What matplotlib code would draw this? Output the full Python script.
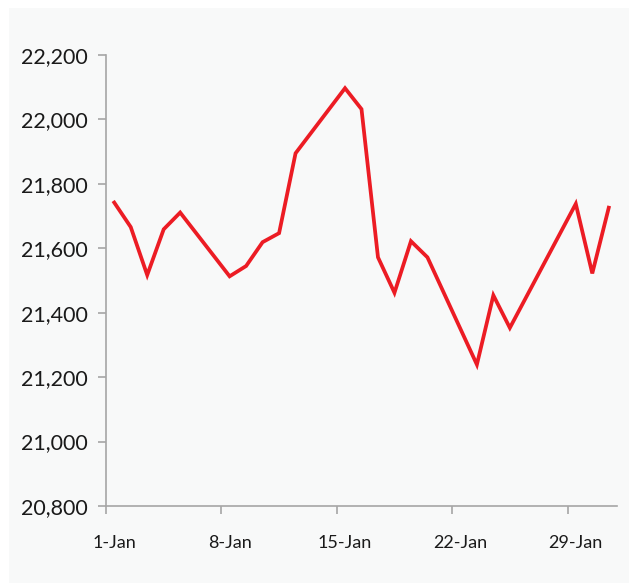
import matplotlib
matplotlib.use("Agg")
import matplotlib.pyplot as plt
import matplotlib.dates as mdates
from matplotlib.patches import Rectangle
import numpy as np
import pandas as pd

dates = ["2024-01-01", "2024-01-02", "2024-01-03", "2024-01-04", "2024-01-05",
         "2024-01-08", "2024-01-09", "2024-01-10", "2024-01-11", "2024-01-12",
         "2024-01-15", "2024-01-16", "2024-01-17", "2024-01-18", "2024-01-19",
         "2024-01-20", "2024-01-23", "2024-01-24", "2024-01-25", "2024-01-29",
         "2024-01-30", "2024-01-31"]
values = [21742, 21666, 21517, 21659, 21711,
          21513, 21545, 21619, 21647, 21895,
          22097, 22032, 21572, 21462, 21622,
          21572, 21239, 21454, 21353, 21738,
          21522, 21726]
tick_dates = ["2024-01-01", "2024-01-08", "2024-01-15", "2024-01-22", "2024-01-29"]
tick_labels = ["1-Jan", "8-Jan", "15-Jan", "22-Jan", "29-Jan"]
y_ticks = [20800, 21000, 21200, 21400, 21600, 21800, 22000, 22200]

plt.rcParams['font.family'] = ['Lato', 'DejaVu Sans']

fig = plt.figure(figsize=(6.29, 5.83), dpi=100)
fig.patch.set_facecolor('white')
bg = Rectangle((9/629, 0), 1 - 9/629, 1 - 8/583,
               transform=fig.transFigure, facecolor='#F8F9F9',
               edgecolor='none', zorder=-10)
fig.add_artist(bg)

ax = fig.add_axes([106/629, (583-506)/583, (617-106)/629, (506-55)/583])
ax.set_facecolor('none')
ax.set_zorder(5)

x = mdates.date2num(pd.to_datetime(dates)) + 0.5
ax.plot(x, values, color='#EC1C24', lw=2.7, solid_joinstyle='miter', zorder=3)

ax.set_xlim(mdates.date2num(pd.Timestamp("2024-01-01")), mdates.date2num(pd.Timestamp("2024-02-01")))
ax.set_ylim(20800, 22200)

tick_x = mdates.date2num(pd.to_datetime(tick_dates))
ax.set_xticks(tick_x)
ax.set_xticklabels([])
ax.set_xticks(tick_x + 0.5, minor=True)
ax.set_xticklabels(tick_labels, minor=True)
ax.tick_params(axis='x', which='minor', length=0, pad=21, labelsize=13, labelcolor='#1a1a1a')
ax.tick_params(axis='x', which='major', length=6, width=1.2, color='#A6A6A6')

ax.set_yticks(y_ticks)
ax.set_yticklabels([f"{v:,}" for v in y_ticks])
ax.tick_params(axis='y', length=6, width=1.2, color='#A6A6A6', pad=7, labelsize=15.5, labelcolor='#1a1a1a')

for s in ['top', 'right']:
    ax.spines[s].set_visible(False)
for s in ['left', 'bottom']:
    ax.spines[s].set_color('#A6A6A6')
    ax.spines[s].set_linewidth(1.2)

fig.savefig("out.png", dpi=100)
